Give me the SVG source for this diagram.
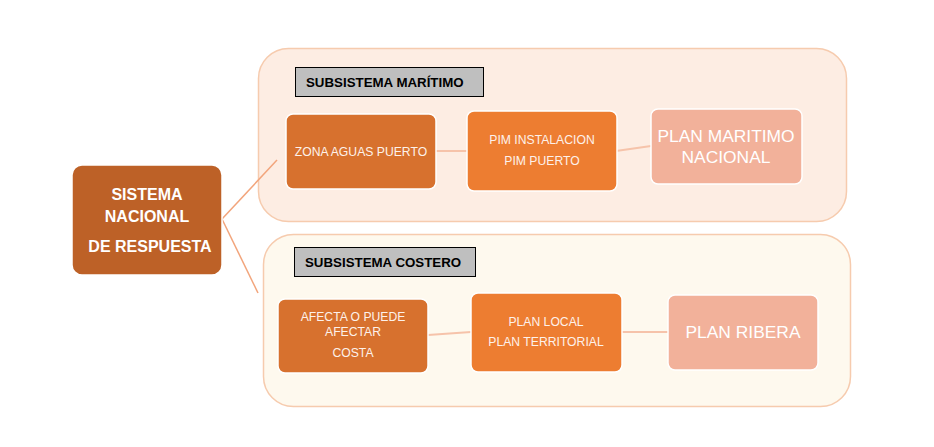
<svg xmlns="http://www.w3.org/2000/svg" width="934" height="447" viewBox="0 0 934 447">
<style>
text{font-family:"Liberation Sans",Arial,sans-serif;text-anchor:middle;dominant-baseline:central}
.cont{stroke:#F6CBAE;stroke-width:1.5}
.lbl{fill:#BFBFBF;stroke:#000;stroke-width:1}
.lblt{font-weight:bold;font-size:13.3px;fill:#000;text-anchor:start}
.n{stroke:#fff;stroke-width:1.5}
.d{fill:#D7712E}
.m{fill:#ED7D31}
.l{fill:#F2B19A}
.t{fill:#FDF1EA;font-size:12.2px}
.big{fill:#fff;font-size:17.4px}
.con{stroke:#F2A57C;stroke-width:1.5;fill:none}
.con2{stroke:#F6C3AA;stroke-width:2;fill:none}
</style>
<rect width="934" height="447" fill="#fff"/>
<g id="maritimo-container">
<rect class="cont" x="258.5" y="48.5" width="588" height="173" rx="30" fill="#FDEDE3"/>
<rect class="lbl" x="295.5" y="67.5" width="188" height="29"/>
<text class="lblt" x="306" y="82">SUBSISTEMA MARÍTIMO</text>
</g>
<g id="costero-container">
<rect class="cont" x="263.5" y="234.5" width="587" height="172" rx="30" fill="#FEF9EE"/>
<rect class="lbl" x="294.5" y="247.5" width="181" height="29"/>
<text class="lblt" x="305" y="262">SUBSISTEMA COSTERO</text>
</g>
<g id="connectors">
<line class="con" x1="222" y1="219" x2="277" y2="160"/>
<line class="con" x1="222" y1="219" x2="258" y2="293"/>
<line class="con2" x1="436" y1="151" x2="467" y2="151"/>
<line class="con2" x1="616" y1="151" x2="651" y2="146"/>
<line class="con2" x1="428" y1="335" x2="471" y2="332"/>
<line class="con2" x1="621" y1="332" x2="668" y2="332"/>
</g>
<g id="sistema-nacional">
<rect class="n" x="72" y="165" width="150" height="110" rx="10" fill="#BD6127"/>
<text x="147" y="194" fill="#fff" font-weight="bold" font-size="16px">SISTEMA</text>
<text x="147" y="216" fill="#fff" font-weight="bold" font-size="16px">NACIONAL</text>
<text x="150" y="246" fill="#fff" font-weight="bold" font-size="16px">DE RESPUESTA</text>
</g>
<g id="zona-aguas-puerto">
<rect class="n d" x="286" y="114" width="150" height="75" rx="7"/>
<text class="t" x="361" y="152">ZONA AGUAS PUERTO</text>
</g>
<g id="pim">
<rect class="n m" x="467" y="111" width="150" height="80" rx="7"/>
<text class="t" x="542" y="140">PIM INSTALACION</text>
<text class="t" x="542" y="161">PIM PUERTO</text>
</g>
<g id="plan-maritimo">
<rect class="n l" x="651" y="109" width="151" height="75" rx="7"/>
<text class="big" x="726" y="136">PLAN MARITIMO</text>
<text class="big" x="726" y="157">NACIONAL</text>
</g>
<g id="afecta-costa">
<rect class="n d" x="278" y="299" width="150" height="74" rx="7"/>
<text class="t" x="353" y="317">AFECTA O PUEDE</text>
<text class="t" x="353" y="332">AFECTAR</text>
<text class="t" x="353" y="353">COSTA</text>
</g>
<g id="plan-local">
<rect class="n m" x="471" y="293" width="151" height="79" rx="7"/>
<text class="t" x="546" y="322">PLAN LOCAL</text>
<text class="t" x="546" y="342">PLAN TERRITORIAL</text>
</g>
<g id="plan-ribera">
<rect class="n l" x="668" y="295" width="150" height="75" rx="7"/>
<text class="big" x="743" y="332">PLAN RIBERA</text>
</g>
</svg>
